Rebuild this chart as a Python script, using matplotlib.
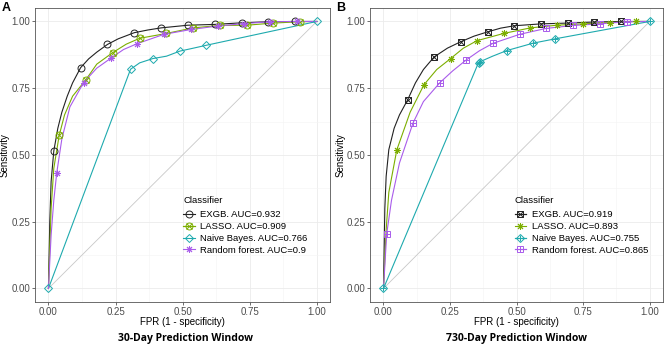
import matplotlib
matplotlib.use("Agg")
import matplotlib.pyplot as plt
from matplotlib.lines import Line2D
from matplotlib.ticker import MultipleLocator

plt.rcParams["font.family"] = ["Liberation Sans", "DejaVu Sans"]

# ---- data ----
# Panel A: 30-day window
a_exgb_fpr = [0, 0.005, 0.01, 0.02, 0.035, 0.05, 0.07, 0.09, 0.12, 0.15, 0.18, 0.22, 0.26, 0.32, 0.37, 0.42, 0.52, 0.62, 0.72, 0.82, 0.92, 1.0]
a_exgb_tpr = [0, 0.25, 0.40, 0.515, 0.60, 0.66, 0.72, 0.77, 0.827, 0.86, 0.885, 0.914, 0.935, 0.958, 0.968, 0.976, 0.986, 0.989, 0.995, 0.999, 1.0, 1.0]
a_exgb_mk = [3, 8, 11, 13, 15, 16, 17, 18, 19, 20]

a_lasso_fpr = [0, 0.01, 0.02, 0.04, 0.06, 0.09, 0.139, 0.18, 0.239, 0.29, 0.34, 0.439, 0.539, 0.638, 0.739, 0.838, 0.938, 1.0]
a_lasso_tpr = [0, 0.30, 0.45, 0.573, 0.65, 0.72, 0.781, 0.84, 0.883, 0.915, 0.937, 0.955, 0.976, 0.985, 0.986, 0.994, 0.999, 1.0]
a_lasso_mk = [3, 6, 8, 10, 11, 12, 13, 14, 15, 16]

a_nb_fpr = [0, 0.306, 0.34, 0.389, 0.44, 0.49, 0.54, 0.589, 1.0]
a_nb_tpr = [0, 0.821, 0.845, 0.861, 0.870, 0.889, 0.900, 0.911, 1.0]
a_nb_mk = [0, 1, 3, 5, 7, 8]

a_rf_fpr = [0, 0.01, 0.02, 0.031, 0.05, 0.08, 0.131, 0.18, 0.232, 0.28, 0.331, 0.431, 0.532, 0.631, 0.73, 0.825, 0.926, 1.0]
a_rf_tpr = [0, 0.20, 0.33, 0.433, 0.56, 0.68, 0.771, 0.825, 0.862, 0.895, 0.917, 0.952, 0.970, 0.983, 0.992, 0.999, 1.0, 1.0]
a_rf_mk = [3, 6, 8, 10, 11, 12, 13, 14, 15, 16]

# Panel B: 730-day window
b_exgb_fpr = [0, 0.005, 0.01, 0.02, 0.04, 0.06, 0.091, 0.12, 0.15, 0.19, 0.24, 0.29, 0.34, 0.391, 0.44, 0.492, 0.592, 0.692, 0.792, 0.892, 1.0]
b_exgb_tpr = [0, 0.30, 0.42, 0.52, 0.60, 0.65, 0.707, 0.77, 0.82, 0.867, 0.90, 0.924, 0.945, 0.961, 0.975, 0.984, 0.991, 0.994, 0.998, 1.0, 1.0]
b_exgb_mk = [6, 9, 11, 13, 15, 16, 17, 18, 19]

b_lasso_fpr = [0, 0.01, 0.02, 0.05, 0.10, 0.152, 0.20, 0.252, 0.30, 0.351, 0.451, 0.552, 0.651, 0.751, 0.851, 0.95, 1.0]
b_lasso_tpr = [0, 0.22, 0.36, 0.519, 0.66, 0.763, 0.82, 0.861, 0.90, 0.928, 0.955, 0.976, 0.986, 0.991, 0.996, 1.0, 1.0]
b_lasso_mk = [3, 5, 7, 9, 10, 11, 12, 13, 14, 15]

b_nb_fpr = [0, 0.357, 0.362, 0.41, 0.463, 0.563, 0.645, 1.0]
b_nb_tpr = [0, 0.846, 0.849, 0.870, 0.891, 0.919, 0.935, 1.0]
b_nb_mk = [0, 1, 2, 4, 5, 6, 7]

b_rf_fpr = [0, 0.012, 0.03, 0.06, 0.111, 0.15, 0.212, 0.26, 0.311, 0.36, 0.411, 0.512, 0.611, 0.712, 0.812, 0.913, 1.0]
b_rf_tpr = [0, 0.204, 0.33, 0.47, 0.62, 0.70, 0.771, 0.815, 0.856, 0.89, 0.918, 0.952, 0.974, 0.985, 0.991, 0.999, 1.0]
b_rf_mk = [1, 4, 6, 8, 10, 11, 12, 13, 14, 15]

labels_a = ["EXGB. AUC=0.932", "LASSO. AUC=0.909", "Naive Bayes. AUC=0.766", "Random forest. AUC=0.9"]
labels_b = ["EXGB. AUC=0.919", "LASSO. AUC=0.893", "Naive Bayes. AUC=0.755", "Random forest. AUC=0.865"]
titles = ["30-Day Prediction Window", "730-Day Prediction Window"]

colors = ["#222222", "#7CAE00", "#1EAAAE", "#A95CEB"]
ASTER = (8, 2, 0)
# each marker may be two glyphs overlaid (ggplot shapes 7, 9, 12, 13)
shapes_a = [["o"], ["o", "x"], ["D"], [ASTER]]
shapes_b = [["s", "x"], [ASTER], ["D", "+"], ["s", "+"]]

panel_a = [(a_exgb_fpr, a_exgb_tpr, a_exgb_mk), (a_lasso_fpr, a_lasso_tpr, a_lasso_mk),
           (a_nb_fpr, a_nb_tpr, a_nb_mk), (a_rf_fpr, a_rf_tpr, a_rf_mk)]
panel_b = [(b_exgb_fpr, b_exgb_tpr, b_exgb_mk), (b_lasso_fpr, b_lasso_tpr, b_lasso_mk),
           (b_nb_fpr, b_nb_tpr, b_nb_mk), (b_rf_fpr, b_rf_tpr, b_rf_mk)]

fig = plt.figure(figsize=(6.67, 3.53), dpi=100)
ax_a = fig.add_axes([0.0525, 0.145, 0.4425, 0.832])
ax_b = fig.add_axes([0.555, 0.145, 0.439, 0.832])


def marker_size(m):
    if m == "D":
        return 4.2
    if m in ("x", "+"):
        return 4.0
    return 5.0


def draw_panel(ax, series, shapes, labels, legend_x):
    ax.plot([0, 1], [0, 1], color="#c8c8c8", lw=0.6, zorder=1)
    handles = []
    for (fpr, tpr, mk), shp, col, lab in zip(series, shapes, colors, labels):
        ax.plot(fpr, tpr, color=col, lw=0.8, zorder=2)
        parts = []
        for m in shp:
            ax.plot(fpr, tpr, ls="none", marker=m, markevery=mk, ms=marker_size(m),
                    mfc="none", mec=col, mew=0.7, zorder=3)
            parts.append(Line2D([], [], color=col, lw=0.8, marker=m, ms=marker_size(m),
                                mfc="none", mec=col, mew=0.7))
        handles.append(tuple(parts) if len(parts) > 1 else parts[0])

    ax.set_xlim(-0.05, 1.05)
    ax.set_ylim(-0.05, 1.05)
    ax.xaxis.set_major_locator(MultipleLocator(0.25))
    ax.yaxis.set_major_locator(MultipleLocator(0.25))
    ax.xaxis.set_minor_locator(MultipleLocator(0.125))
    ax.yaxis.set_minor_locator(MultipleLocator(0.125))
    ax.grid(which="major", color="#ebebeb", lw=0.6)
    ax.grid(which="minor", color="#f4f4f4", lw=0.4)
    ax.set_axisbelow(True)
    ax.tick_params(which="major", length=2.5, width=0.5, color="#333333",
                   labelsize=7, labelcolor="#4d4d4d", pad=1.2)
    ax.tick_params(which="minor", length=0)
    ax.xaxis.set_major_formatter(lambda v, p: f"{v:.2f}")
    ax.yaxis.set_major_formatter(lambda v, p: f"{v:.2f}")
    for sp in ax.spines.values():
        sp.set_color("#555555")
        sp.set_linewidth(0.6)
    ax.set_xlabel("FPR (1 - specificity)", fontsize=7)
    ax.set_ylabel("Sensitivity", fontsize=7)
    ax.xaxis.set_label_coords(0.5, -0.052)
    ax.yaxis.set_label_coords(-0.085, 0.5)

    leg = ax.legend(handles, labels, title="Classifier", loc="upper left",
                    bbox_to_anchor=(legend_x, 0.365), frameon=False, fontsize=6.8,
                    title_fontsize=6.8, handlelength=1.2, handletextpad=0.6,
                    labelspacing=0.3, borderaxespad=0)
    leg._legend_box.align = "left"
    leg.get_title().set_position((0, 2))


draw_panel(ax_a, panel_a, shapes_a, labels_a, 0.49)
draw_panel(ax_b, panel_b, shapes_b, labels_b, 0.48)

fig.text(0.003, 0.995, "A", fontsize=9, fontweight="bold", va="top", ha="left")
fig.text(0.504, 0.995, "B", fontsize=9, fontweight="bold", va="top", ha="left")

fig.text(186 / 667, 1 - 339 / 353, titles[0], fontsize=7.5, fontweight="bold",
         ha="center", va="center", family="Open Sans")
fig.text(516 / 667, 1 - 339 / 353, titles[1], fontsize=7.5, fontweight="bold",
         ha="center", va="center", family="Open Sans")

fig.savefig("out.png", dpi=100)
